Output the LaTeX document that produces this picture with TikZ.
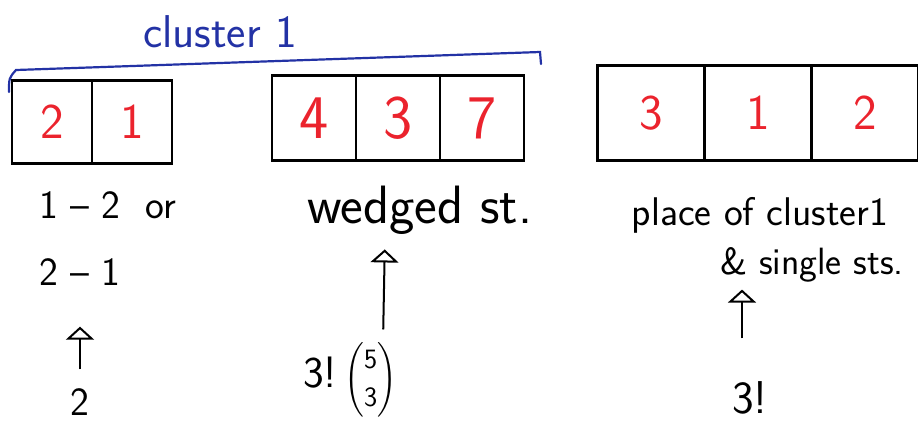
\RequirePackage{fix-cm}
\documentclass[tikz,border=0pt]{standalone}
\usepackage{amsmath}
\usetikzlibrary{arrows.meta,positioning}
\definecolor{inkred}{RGB}{235,35,45}
\definecolor{inkblue}{RGB}{35,50,165}
\tikzset{
  cell/.style={draw,line width=2.2pt,outer sep=0pt,inner sep=0pt,
               text=inkred,font=\fontsize{50}{52}\selectfont\sffamily},
  note/.style={inner sep=1pt,font=\fontsize{40}{44}\selectfont\sffamily},
  uparrow/.style={-{Triangle[open,length=13pt,width=28pt]},line width=2pt}
}
\begin{document}
\begin{tikzpicture}[x=1pt,y=-1pt]
  \useasboundingbox (0,0) rectangle (918,424);
  % cluster of two
  \node[cell,minimum width=80pt,minimum height=83pt] (a1) at (52,122) {2};
  \node[cell,minimum width=80pt,minimum height=83pt,right=0pt of a1] (a2) {1};
  % cluster of three
  \node[cell,minimum width=84pt,minimum height=85pt,font=\fontsize{62}{64}\selectfont\sffamily] (b1) at (314,118) {4};
  \node[cell,minimum width=84pt,minimum height=85pt,font=\fontsize{62}{64}\selectfont\sffamily,right=0pt of b1] (b2) {3};
  \node[cell,minimum width=84pt,minimum height=85pt,font=\fontsize{62}{64}\selectfont\sffamily,right=0pt of b2] (b3) {7};
  % placing the clusters
  \node[cell,minimum width=107pt,minimum height=95pt] (c1) at (651,113) {3};
  \node[cell,minimum width=107pt,minimum height=95pt,right=0pt of c1] (c2) {1};
  \node[cell,minimum width=107pt,minimum height=95pt,right=0pt of c2] (c3) {2};

  % brace over the first cluster
  \draw[inkblue,line width=2.2pt,line cap=round] (9,92) .. controls (9,78) .. (16,70) -- (540,52) -- (541,64);
  \node[note,text=inkblue,font=\fontsize{46}{50}\selectfont\sffamily] (clus) at (220,32) {cluster 1};

  % left column
  \node[note,anchor=west] (ordA) at (38,205) {1 -- 2 \ or};
  \node[note,anchor=west] (altA) at (38,272) {2 -- 1};
  \node[note] (cntA) at (80,402) {2};
  \draw[uparrow,shorten <=18pt,shorten >=40pt] (cntA.north) -- (altA.south -| cntA.north);

  % middle column
  \node[note,font=\fontsize{54}{58}\selectfont\sffamily] (wedge) at (420,210) {wedged st.};
  \node[note,font=\fontsize{44}{48}\selectfont\sffamily] (cntB) at (350,380)
    {3!\,{\fontsize{28}{32}\selectfont$\dbinom{\textsf{5}}{\textsf{3}}$}};
  \draw[uparrow,shorten <=12pt,shorten >=14pt] ([xshift=33pt]cntB.north) -- (wedge.south -| 385,0);

  % right column
  \node[note] (place) at (760,215) {place of cluster1};
  \node[note,font=\fontsize{38}{42}\selectfont\sffamily] (single) at (812,265) {\& single sts.};
  \node[note,font=\fontsize{46}{50}\selectfont\sffamily] (cntC) at (750,398) {3!};
  \draw[uparrow,shorten <=42pt,shorten >=6pt] ([xshift=-8pt]cntC.north) -- (single.south -| 742,0);
\end{tikzpicture}
\end{document}
